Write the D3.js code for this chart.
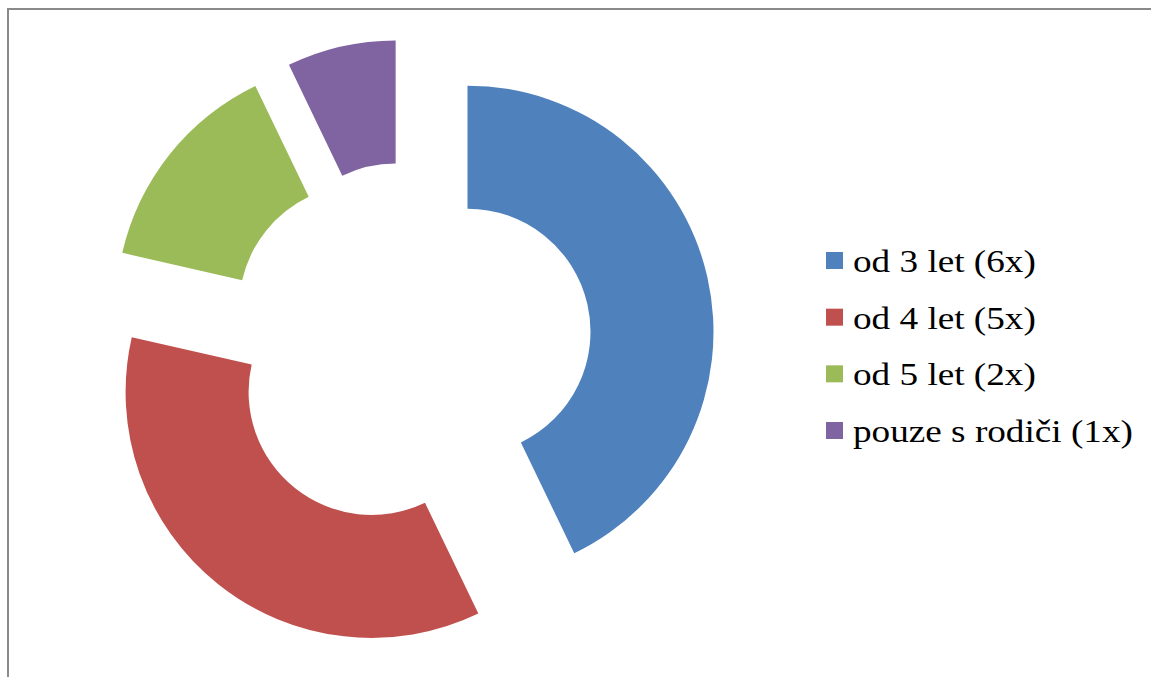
<!DOCTYPE html>
<html>
<head>
<meta charset="utf-8">
<script src="https://cdn.jsdelivr.net/npm/d3@7"></script>
<style>
  html, body { margin: 0; padding: 0; background: #fff; }
  svg { display: block; }
</style>
</head>
<body>
<svg id="chart" width="1151" height="677"></svg>
<script>
const categories = ["od 3 let (6x)", "od 4 let (5x)", "od 5 let (2x)", "pouze s rodiči (1x)"];
const values = [6, 5, 2, 1];
const colors = ["#4F81BD", "#C0504D", "#9BBB59", "#8064A2"];

const svg = d3.select("#chart");
const W = 1151, H = 677;

// chart border
svg.append("rect")
  .attr("x", 8).attr("y", 9)
  .attr("width", 1200).attr("height", 800)
  .attr("fill", "none")
  .attr("stroke", "#8a8a8a")
  .attr("stroke-width", 2);

const cx = 409, cy = 345, R = 246, r = 123, explode = 60;

const data = categories.map((c, i) => ({ name: c, value: values[i], color: colors[i] }));
const pie = d3.pie().value(d => d.value).sort(null).startAngle(0).endAngle(2 * Math.PI);
const arc = d3.arc().innerRadius(r).outerRadius(R);

const g = svg.append("g").attr("transform", `translate(${cx},${cy})`);
g.selectAll("path")
  .data(pie(data))
  .join("path")
  .attr("transform", d => {
    const m = (d.startAngle + d.endAngle) / 2;
    return `translate(${explode * Math.sin(m)},${-explode * Math.cos(m)})`;
  })
  .attr("d", arc)
  .attr("fill", d => d.data.color);

// legend
const legendY = d3.scalePoint().domain(categories).range([252, 422]);
const leg = svg.append("g");
const items = leg.selectAll("g").data(data).join("g")
  .attr("transform", d => `translate(826,${legendY(d.name)})`);
items.append("rect")
  .attr("width", 17).attr("height", 17)
  .attr("fill", d => d.color);
items.append("text")
  .attr("transform", "translate(27,20) scale(1.2,1)")
  .attr("font-family", "'Liberation Serif', 'Times New Roman', serif")
  .attr("font-size", 31)
  .attr("fill", "#000")
  .text(d => d.name);
</script>
</body>
</html>
